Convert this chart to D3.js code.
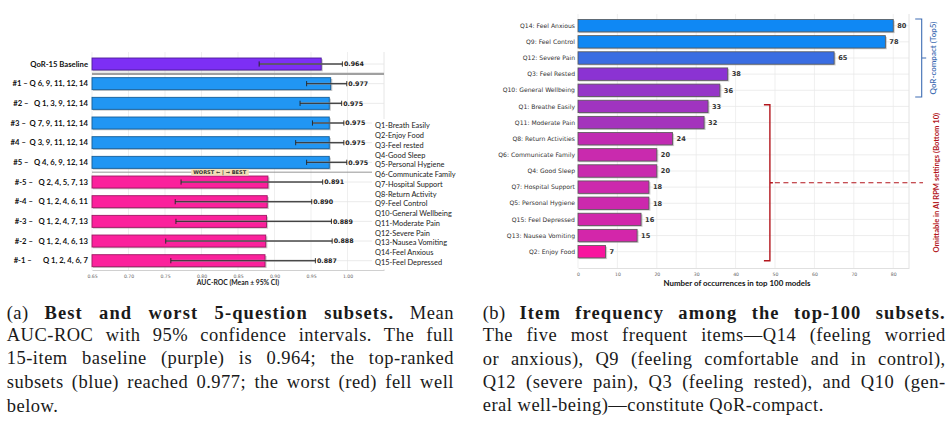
<!DOCTYPE html>
<html><head><meta charset="utf-8">
<script src="https://cdn.jsdelivr.net/npm/d3@7"></script>
<style>
body{margin:0;background:#fff;width:952px;height:444px;overflow:hidden;position:relative;}
svg{position:absolute;left:0;top:0;}
.capline{position:absolute;font-family:"Liberation Serif","Times New Roman",serif;font-size:18.5px;line-height:20px;color:#1a1a1a;letter-spacing:0.5px;text-align:justify;text-align-last:justify;white-space:nowrap;}
.capline b{letter-spacing:1.1px;}
.capline.last{text-align:left;text-align-last:left;}
</style></head>
<body>
<script>
// ---------- DATA: panel (a) ----------
const subsetLabels = ["QoR-15 Baseline","#1 – Q 6, 9, 11, 12, 14","#2 –   Q 1, 3, 9, 12, 14","#3 –  Q 7, 9, 11, 12, 14","#4 –  Q 3, 9, 11, 12, 14","#5 –   Q 4, 6, 9, 12, 14","#-5 –   Q 2, 4, 5, 7, 13","#-4 –   Q 1, 2, 4, 6, 11","#-3 –   Q 1, 2, 4, 7, 13","#-2 –   Q 1, 2, 4, 6, 13","#-1 –      Q 1, 2, 4, 6, 7"];
const subsetGroup = ["base","best","best","best","best","best","worst","worst","worst","worst","worst"];
const aucMean = [0.964,0.977,0.975,0.975,0.975,0.975,0.891,0.890,0.889,0.888,0.887];
const ciLow   = [0.879,0.944,0.935,0.952,0.929,0.944,0.772,0.764,0.765,0.751,0.758];
const ciHigh  = [0.993,0.999,0.992,0.995,0.995,0.999,0.966,0.951,0.978,0.979,0.956];
const aucTicks = [0.65,0.70,0.75,0.80,0.85,0.90,0.95,1.00];
const legendItems = ["Q1-Breath Easily","Q2-Enjoy Food","Q3-Feel rested","Q4-Good Sleep","Q5-Personal Hygiene","Q6-Communicate Family","Q7-Hospital Support","Q8-Return Activity","Q9-Feel Control","Q10-General Wellbeing","Q11-Moderate Pain","Q12-Severe Pain","Q13-Nausea Vomiting","Q14-Feel Anxious","Q15-Feel Depressed"];

// ---------- DATA: panel (b) ----------
const itemLabels = ["Q14: Feel Anxious","Q9: Feel Control","Q12: Severe Pain","Q3: Feel Rested","Q10: General Wellbeing","Q1: Breathe Easily","Q11: Moderate Pain","Q8: Return Activities","Q6: Communicate Family","Q4: Good Sleep","Q7: Hospital Support","Q5: Personal Hygiene","Q15: Feel Depressed","Q13: Nausea Vomiting","Q2: Enjoy Food"];
const itemCounts = [80,78,65,38,36,33,32,24,20,20,18,18,16,15,7];
const countTicks = [0,10,20,30,40,50,60,70,80];
const topGroup = itemLabels.slice(0,5);
const bottomGroup = itemLabels.slice(5);

// ---------- captions ----------
const captionA = ["(a) <b>Best and worst 5-question subsets.</b> Mean","AUC-ROC with 95% confidence intervals. The full","15-item baseline (purple) is 0.964; the top-ranked","subsets (blue) reached 0.977; the worst (red) fell well","below."];
const captionB = ["(b) <b>Item frequency among the top-100 subsets.</b>","The five most frequent items—Q14 (feeling worried","or anxious), Q9 (feeling comfortable and in control),","Q12 (severe pain), Q3 (feeling rested), and Q10 (gen-","eral well-being)—constitute QoR-compact."];

// ---------- styles ----------
const groupColor = {base:"#7d2ff5", best:"#2196f3", worst:"#fb219c"};
const itemColors = ["#0f88f4","#0f88f4","#3a6de2","#8b33d3","#9636c8","#a034c0","#a434bc","#c02bb2","#c92aae","#c92aae","#cc29ad","#cc29ad","#d126ab","#d326aa","#f8149e"];

const svg = d3.select("body").append("svg").attr("width",952).attr("height",444);

// ================= PANEL A =================
const xL = d3.scaleLinear().domain([0.65,1.05]).range([92,384]);
const yL = d3.scalePoint().domain(subsetLabels).range([64,260.7]);
const topL = 52, botL = 270, barHL = 12;
const gA = svg.append("g");

gA.selectAll("line.vg").data(aucTicks).join("line")
  .attr("x1",d=>xL(d)).attr("x2",d=>xL(d)).attr("y1",topL).attr("y2",botL)
  .attr("stroke","#ebebeb").attr("stroke-width",0.8);
gA.selectAll("line.hg").data(subsetLabels).join("line")
  .attr("x1",xL.range()[0]).attr("x2",xL.range()[1]).attr("y1",d=>yL(d)).attr("y2",d=>yL(d))
  .attr("stroke","#e4e4e4").attr("stroke-width",0.8);
gA.append("line").attr("x1",xL.range()[1]).attr("x2",xL.range()[1]).attr("y1",topL).attr("y2",botL).attr("stroke","#e6e6e6");

// separators
const sep1 = (yL(subsetLabels[0])+yL(subsetLabels[1]))/2;
const sep2 = (yL(subsetLabels[5])+yL(subsetLabels[6]))/2;
gA.append("line").attr("x1",xL.range()[0]).attr("x2",xL.range()[1]).attr("y1",sep1).attr("y2",sep1).attr("stroke","#a0a0a0").attr("stroke-width",2.2);
gA.append("line").attr("x1",xL.range()[0]).attr("x2",xL.range()[1]).attr("y1",sep2).attr("y2",sep2).attr("stroke","#8a8a8a").attr("stroke-width",0.9);

// axis
const axA = gA.append("g").attr("transform",`translate(0,${botL})`)
  .call(d3.axisBottom(xL).tickValues(aucTicks).tickFormat(d3.format(".2f")).tickSize(0).tickPadding(4.5));
axA.select(".domain").attr("stroke","#d0d0d0");
axA.selectAll("text").attr("font-family","DejaVu Sans").attr("font-size",4.6).attr("fill","#666");
gA.append("text").attr("x",(xL.range()[0]+xL.range()[1])/2).attr("y",285).attr("text-anchor","middle")
  .attr("font-family","Lato").attr("font-weight",700).attr("font-size",6.8).attr("fill","#222")
  .text("AUC-ROC (Mean ± 95% CI)");

// bars
const rowsA = subsetLabels.map((l,i)=>({l,g:subsetGroup[i],m:aucMean[i],lo:ciLow[i],hi:ciHigh[i]}));
gA.selectAll("rect.sh").data(rowsA).join("rect")
  .attr("x",xL(0.65)+1).attr("y",d=>yL(d.l)-barHL/2+1.3).attr("width",d=>xL(d.m)-xL(0.65)+0.6).attr("height",barHL)
  .attr("fill","#9a9a9a").attr("opacity",0.55);
gA.selectAll("rect.bar").data(rowsA).join("rect")
  .attr("x",xL(0.65)).attr("y",d=>yL(d.l)-barHL/2).attr("width",d=>xL(d.m)-xL(0.65)).attr("height",barHL)
  .attr("fill",d=>groupColor[d.g]).attr("stroke",d=>d3.color(groupColor[d.g]).darker(1.3)).attr("stroke-width",0.9);

// error bars
rowsA.forEach(d=>{
  const y=yL(d.l);
  gA.append("line").attr("x1",xL(d.lo)).attr("x2",xL(d.hi)).attr("y1",y).attr("y2",y).attr("stroke","#9a9a9a").attr("stroke-width",2).attr("opacity",0.7);
  gA.append("line").attr("x1",xL(d.lo)).attr("x2",xL(d.hi)).attr("y1",y).attr("y2",y).attr("stroke","#222").attr("stroke-width",0.9);
  [d.lo,d.hi].forEach(v=>gA.append("line").attr("x1",xL(v)).attr("x2",xL(v)).attr("y1",y-2.6).attr("y2",y+2.6).attr("stroke","#222").attr("stroke-width",0.9));
  gA.append("text").attr("x",xL(d.hi)+1.5).attr("y",y).attr("dy","0.35em")
    .attr("font-family","DejaVu Sans").attr("font-weight",700).attr("font-size",6.3).attr("fill","#222")
    .text(d3.format(".3f")(d.m));
});

// y labels
gA.selectAll("text.yl").data(subsetLabels).join("text")
  .attr("x",88).attr("y",d=>yL(d)).attr("dy","0.35em").attr("text-anchor","end")
  .style("white-space","pre")
  .attr("font-family","Lato").attr("font-weight",700).attr("font-size",7.7).attr("fill","#111")
  .text(d=>d);

// WORST/BEST tag
const tagX = xL(0.825);
const tag = gA.append("g");
const tagT = tag.append("text").attr("x",tagX).attr("y",sep2).attr("dy","0.36em").attr("text-anchor","middle")
  .attr("font-family","DejaVu Sans").attr("font-weight",700).attr("font-size",5.1).attr("fill","#333")
  .text("WORST ← | → BEST");
const bb = tagT.node().getBBox();
tag.insert("rect","text").attr("x",bb.x-2).attr("y",sep2-3.3).attr("width",bb.width+4).attr("height",6.6).attr("fill","#f3deb6").attr("rx",0.8);

// legend
gA.append("rect").attr("x",372).attr("y",119).attr("width",100).attr("height",150).attr("fill","#fff");
const legY = d3.scalePoint().domain(legendItems).range([125.7,262.3]);
gA.selectAll("text.leg").data(legendItems).join("text")
  .attr("x",375).attr("y",d=>legY(d)).attr("dy","0.35em")
  .attr("font-family","Lato").attr("font-size",7.4).attr("fill","#222").text(d=>d);

// ================= PANEL B =================
const xR = d3.scaleLinear().domain([0,84]).range([578,909]);
const yR = d3.scalePoint().domain(itemLabels).range([25.7,251.7]);
const topR = 14, botR = 268, barHR = 12.4;
const gB = svg.append("g");

gB.selectAll("line.vg").data(countTicks).join("line")
  .attr("x1",d=>xR(d)).attr("x2",d=>xR(d)).attr("y1",topR).attr("y2",botR)
  .attr("stroke","#ebebeb").attr("stroke-width",0.8);
gB.selectAll("line.hg").data(itemLabels).join("line")
  .attr("x1",xR.range()[0]).attr("x2",xR.range()[1]).attr("y1",d=>yR(d)).attr("y2",d=>yR(d))
  .attr("stroke","#e8e8e8").attr("stroke-width",0.8);
gB.append("line").attr("x1",xR.range()[1]).attr("x2",xR.range()[1]).attr("y1",topR).attr("y2",botR).attr("stroke","#e2e2e2");

const axB = gB.append("g").attr("transform",`translate(0,${botR})`)
  .call(d3.axisBottom(xR).tickValues(countTicks).tickSize(0).tickPadding(4.5));
axB.select(".domain").attr("stroke","#e0e0e0");
axB.selectAll("text").attr("font-family","DejaVu Sans").attr("font-size",4.6).attr("fill","#666");
gB.append("text").attr("x",737).attr("y",285.5).attr("text-anchor","middle")
  .attr("font-family","Lato").attr("font-weight",700).attr("font-size",7.9).attr("fill","#111")
  .text("Number of occurrences in top 100 models");

const rowsB = itemLabels.map((l,i)=>({l,v:itemCounts[i],c:itemColors[i]}));
gB.selectAll("rect.sh").data(rowsB).join("rect")
  .attr("x",xR(0)+1).attr("y",d=>yR(d.l)-barHR/2+1.2).attr("width",d=>xR(d.v)-xR(0)+0.5).attr("height",barHR)
  .attr("fill","#9a9a9a").attr("opacity",0.5);
gB.selectAll("rect.bar").data(rowsB).join("rect")
  .attr("x",xR(0)).attr("y",d=>yR(d.l)-barHR/2).attr("width",d=>xR(d.v)-xR(0)).attr("height",barHR)
  .attr("fill",d=>d.c).attr("stroke","#555").attr("stroke-width",0.8);
gB.selectAll("text.val").data(rowsB).join("text")
  .attr("x",d=>xR(d.v)+4).attr("y",d=>yR(d.l)).attr("dy","0.35em")
  .attr("font-family","DejaVu Sans").attr("font-weight",700).attr("font-size",6.6).attr("fill","#333")
  .text(d=>d.v);
gB.selectAll("text.yl").data(itemLabels).join("text")
  .attr("x",575).attr("y",d=>yR(d)).attr("dy","0.35em").attr("text-anchor","end")
  .attr("font-family","DejaVu Sans").attr("font-size",6.1).attr("fill","#333").text(d=>d);

// blue bracket
const bTop = yR(topGroup[0])-barHR/2-0.5, bBot = yR(topGroup[topGroup.length-1])+barHR/2+0.5, bMid=(bTop+bBot)/2;
const bx = xR.range()[1]+12.7;
gB.append("path").attr("d",`M${bx-6.5},${bTop}H${bx}V${bBot}H${bx-6.5}M${bx},${bMid}H${bx+4.5}`)
  .attr("fill","none").attr("stroke","#3e6db3").attr("stroke-width",1.1);
gB.append("text").attr("transform",`translate(${bx+11.5},${bMid}) rotate(-90)`).attr("dy","0.35em").attr("text-anchor","middle")
  .attr("font-family","Lato").attr("font-weight",600).attr("font-size",8).attr("fill","#3e6db3").text("QoR-compact (Top5)");

// red bracket
const rTop = yR(bottomGroup[0])-1.7, rBot = yR(bottomGroup[bottomGroup.length-1])+9, rMid=(rTop+rBot)/2;
const rx = xR(48.7);
gB.append("path").attr("d",`M${rx-6},${rTop}H${rx}V${rBot}H${rx-6}M${rx},${rMid}H${rx+3}`)
  .attr("fill","none").attr("stroke","#b3161d").attr("stroke-width",1.4);
gB.append("line").attr("x1",rx+5).attr("x2",923).attr("y1",rMid).attr("y2",rMid)
  .attr("stroke","#b3161d").attr("stroke-width",1.1).attr("stroke-dasharray","5,3.5");
gB.append("text").attr("transform",`translate(936,${rMid}) rotate(-90)`).attr("dy","0.35em").attr("text-anchor","middle")
  .attr("font-family","Lato").attr("font-weight",700).attr("font-size",7.6).attr("fill","#b3161d")
  .text("Omittable in AI RPM settings (Bottom 10)");

// ================= CAPTIONS =================
function caption(lines, left, width, centers){
  lines.forEach((t,i)=>{
    d3.select("body").append("div").attr("class","capline"+(i===lines.length-1?" last":""))
      .style("left",left+"px").style("width",width+"px").style("top",(centers[i]-10)+"px").html(t);
  });
}
caption(captionA, 6.7, 447.3, [312.7,335,358.3,382.3,406]);
caption(captionB, 482.7, 463, [313,335,359,382,405]);
</script>
</body></html>
